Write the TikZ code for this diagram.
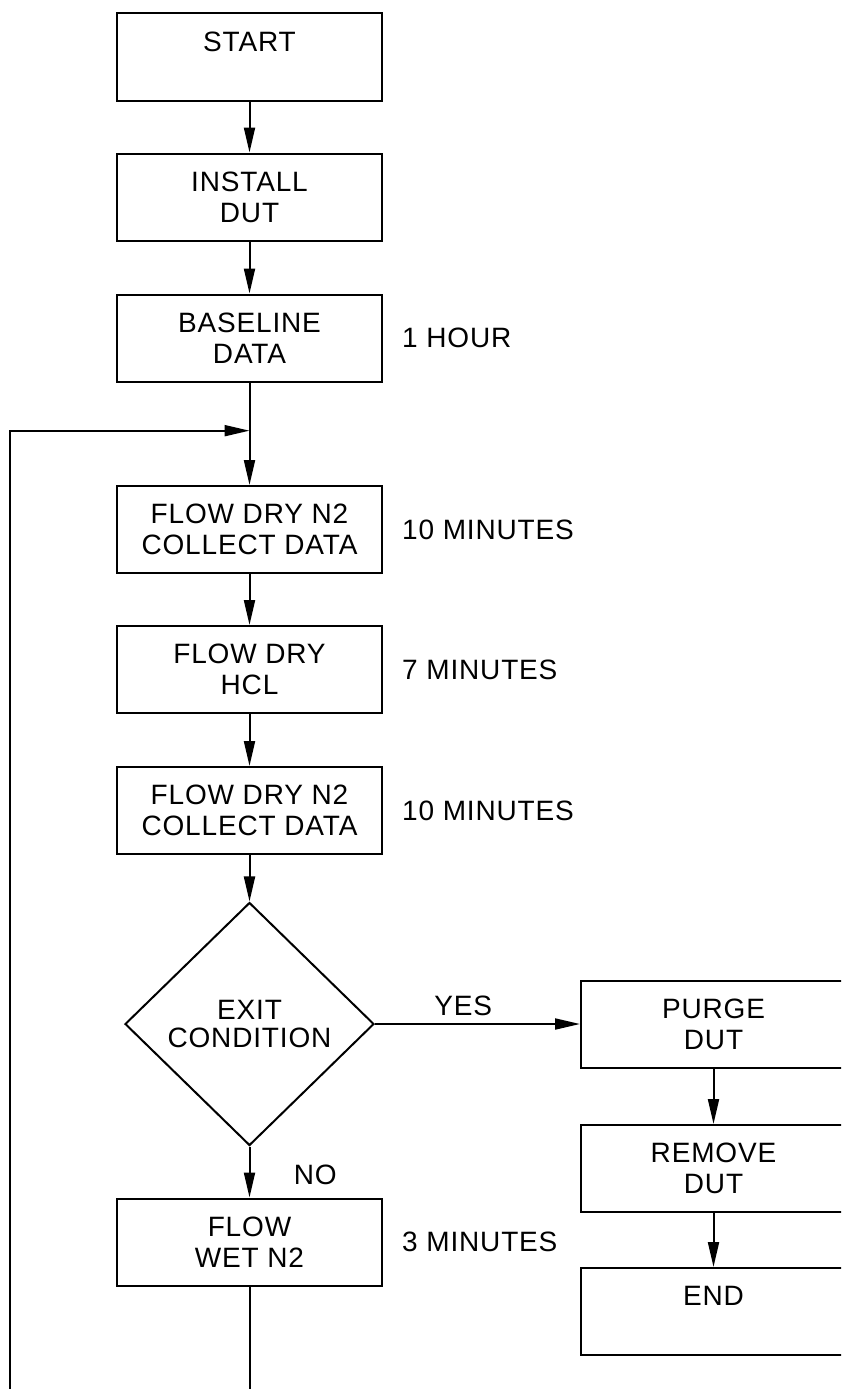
\documentclass[tikz,border=0pt]{standalone}
\usepackage{fontspec}
\setmainfont[LetterSpace=3]{Liberation Sans}
\usetikzlibrary{positioning,shapes.geometric,arrows.meta}

\tikzset{
  every node/.style={font=\fontsize{28}{31}\selectfont},
  stepbox/.style={draw, line width=2pt, minimum width=265pt, minimum height=87pt, align=center, inner sep=0pt},
  testbox/.style={draw, diamond, line width=2pt, minimum width=249pt, minimum height=243pt, align=center, inner sep=0pt},
  timenote/.style={right=19pt, inner sep=0pt},
  flowline/.style={line width=2pt},
  flowarrow/.style={line width=2pt, -{Triangle[length=25pt,width=11pt]}},
}

\begin{document}
\begin{tikzpicture}[x=1pt,y=1pt]
		% Set diagram page, 841 wide and 1389 high
		\useasboundingbox (0,0) rectangle (841,-1389);
		\clip (0,0) rectangle (841,-1389);

		% Main column of steps
		\node[stepbox] (start) at (249.5,-57) {START\\~};
		\node[stepbox, below=51pt of start] (install) {INSTALL\\DUT};
		\node[stepbox, below=52pt of install] (base) {BASELINE\\DATA};
		\node[stepbox, below=102.5pt of base] (flow1) {FLOW DRY N2\\COLLECT DATA};
		\node[stepbox, below=51pt of flow1] (hcl) {FLOW DRY\\HCL};
		\node[stepbox, below=52pt of hcl] (flow2) {FLOW DRY N2\\COLLECT DATA};
		\node[testbox, below=46.5pt of flow2] (exit) {EXIT\\[-3pt]CONDITION};
		\node[stepbox, below=51pt of exit] (wet) {FLOW\\WET N2};

		% Right column, after the exit
		\node[stepbox, right=205pt of exit] (purge) {PURGE\\DUT};
		\node[stepbox, below=55.5pt of purge] (remove) {REMOVE\\DUT};
		\node[stepbox, below=54pt of remove] (end) {END\\~};

		% Times beside the steps
		\node[timenote] at (base.east) (tbase) {1 HOUR};
		\node[timenote] at (flow1.east) (tflow1) {10 MINUTES};
		\node[timenote] at (hcl.east) (thcl) {7 MINUTES};
		\node[timenote] at (flow2.east) (tflow2) {10 MINUTES};
		\node[timenote] at (wet.east) (twet) {3 MINUTES};

		% Arrows down the main column
		\draw[flowarrow] (start) -- (install);
		\draw[flowarrow] (install) -- (base);
		\draw[flowarrow] (base) -- (flow1);
		\draw[flowarrow] (flow1) -- (hcl);
		\draw[flowarrow] (hcl) -- (flow2);
		\draw[flowarrow] (flow2) -- (exit);

		% Yes and no out of the exit condition
		\draw[flowarrow] (exit) -- node[above=4pt, pos=0.43] (yes) {YES} (purge);
		\draw[flowarrow] (exit) -- node[right=40pt, pos=0.55] (no) {NO} (wet);

		% Arrows down the right column
		\draw[flowarrow] (purge) -- (remove);
		\draw[flowarrow] (remove) -- (end);

		% Loop back from the wet step, runs off the bottom of the page
		\path (base.south) -- (flow1.north) coordinate[pos=0.47] (join);
		\coordinate (loopL) at (10,-1400);
		\draw[flowline] (wet.south) -- (wet.south |- loopL) -- (loopL);
		\draw[flowarrow] (loopL) |- (join);
\end{tikzpicture}
\end{document}
